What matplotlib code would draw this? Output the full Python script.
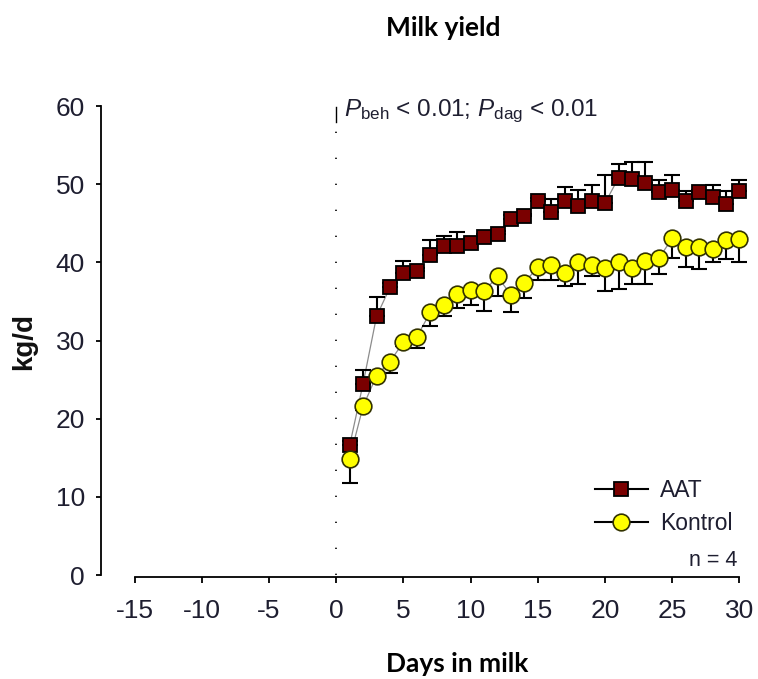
import matplotlib
matplotlib.use('Agg')
import matplotlib.pyplot as plt
from matplotlib.lines import Line2D

# ---- data ----
days = list(range(1, 31))
aat = [16.6, 24.5, 33.1, 36.8, 38.7, 38.9, 41.0, 42.1, 42.1, 42.5,
       43.2, 43.6, 45.5, 45.9, 47.8, 46.5, 47.9, 47.2, 47.9, 47.6,
       50.8, 50.6, 50.2, 49.0, 49.2, 47.8, 49.0, 48.4, 47.4, 49.1]
aat_err = [0.5, 1.7, 2.5, 0.5, 1.5, 0.4, 1.9, 1.3, 1.8, 0.4,
           0.4, 0.4, 0.6, 0.3, 0.4, 1.6, 1.7, 2.1, 2.0, 3.6,
           1.8, 2.3, 2.7, 1.5, 2.0, 1.3, 0.3, 1.5, 1.7, 1.4]
kontrol = [14.9, 21.6, 25.5, 27.3, 29.8, 30.5, 33.6, 34.6, 35.9, 36.5,
           36.3, 38.2, 35.8, 37.4, 39.4, 39.7, 38.7, 40.0, 39.6, 39.3,
           40.0, 39.3, 40.2, 40.5, 43.1, 42.0, 42.0, 41.7, 42.8, 43.0]
kontrol_err = [3.1, 0.5, 0.5, 1.4, 0.5, 1.4, 1.8, 1.5, 1.7, 2.0,
               2.5, 2.5, 2.2, 2.0, 1.7, 1.9, 1.7, 2.8, 1.4, 3.0,
               3.4, 2.1, 3.0, 2.0, 2.6, 2.6, 2.9, 1.7, 2.4, 3.0]
x_ticks = [-15, -10, -5, 0, 5, 10, 15, 20, 25, 30]
y_ticks = [0, 10, 20, 30, 40, 50, 60]

plt.rcParams['font.family'] = ['Liberation Sans', 'DejaVu Sans']
plt.rcParams['axes.unicode_minus'] = False
plt.rcParams['mathtext.fontset'] = 'custom'
plt.rcParams['mathtext.rm'] = 'Liberation Sans'
plt.rcParams['mathtext.it'] = 'Liberation Sans:italic'

txt_col = '#1e1e30'
red = '#7a0000'
yellow = '#ffff00'

fig = plt.figure(figsize=(7.58, 6.79), dpi=100)
ax = fig.add_axes([101 / 758, 102 / 679, (739.5 - 101) / 758, 471 / 679])
ax.set_xlim(-17.5, 30)
ax.set_ylim(-0.25, 60)

# dotted line at calving
ax.plot([0, 0], [0, 57.6], color='black', lw=1.2, linestyle=(0, (0.8, 14.8)))
ax.plot([0, 0], [57.9, 59.9], color='black', lw=1.0)

# connecting lines
ax.plot(days, aat, color='#8c8c8c', lw=0.9, zorder=2)
ax.plot(days, kontrol, color='#8c8c8c', lw=0.9, zorder=2)

# one-sided error bars
zeros = [0] * len(days)
ax.errorbar(days, aat, yerr=[zeros, aat_err], fmt='none', ecolor='black',
            elinewidth=1.5, capsize=5.5, capthick=1.5, zorder=3, clip_on=False)
ax.errorbar(days, kontrol, yerr=[kontrol_err, zeros], fmt='none', ecolor='black',
            elinewidth=1.5, capsize=5.5, capthick=1.5, zorder=3, clip_on=False)

ax.plot(days, aat, linestyle='none', marker='s', markersize=10.5,
        markerfacecolor=red, markeredgecolor='black', markeredgewidth=1.3,
        zorder=4, clip_on=False)
ax.plot(days, kontrol, linestyle='none', marker='o', markersize=12,
        markerfacecolor=yellow, markeredgecolor='#333300', markeredgewidth=1.2,
        zorder=5, clip_on=False)

# axes styling
for s in ['top', 'right']:
    ax.spines[s].set_visible(False)
ax.spines['left'].set_bounds(0, 60)
ax.spines['bottom'].set_bounds(-15, 30)
ax.spines['left'].set_linewidth(1.3)
ax.spines['bottom'].set_linewidth(1.3)
ax.set_xticks(x_ticks)
ax.set_yticks(y_ticks)
ax.tick_params(axis='x', direction='out', length=4.5, width=1.3, pad=11,
               labelsize=19, labelcolor=txt_col)
ax.tick_params(axis='y', direction='out', length=3.5, width=1.3, pad=8,
               labelsize=19, labelcolor=txt_col)

ax.text(0.6, 59.3, r'$P_{\mathrm{beh}}$ < 0.01; $P_{\mathrm{dag}}$ < 0.01',
        fontsize=17.5, color=txt_col, va='center', ha='left')

# legend
handles = [
    Line2D([], [], color='black', lw=1.5, marker='s', markersize=10.5,
           markerfacecolor=red, markeredgecolor='black', markeredgewidth=1.3),
    Line2D([], [], color='black', lw=1.5, marker='o', markersize=12,
           markerfacecolor=yellow, markeredgecolor='#333300', markeredgewidth=1.2),
]
fig.legend(handles, ['AAT', 'Kontrol'], loc='upper left',
           bbox_to_anchor=(595 / 758, 1 - 479 / 679), frameon=False,
           fontsize=16.5, handlelength=2.3, handletextpad=0.55,
           borderpad=0, borderaxespad=0, labelspacing=0.45, labelcolor=txt_col)
fig.text(737 / 758, 1 - 561 / 679, 'n = 4', fontsize=15.5, color=txt_col,
         ha='right', va='center')

fig.text(24 / 758, 1 - 342 / 679, 'kg/d', fontsize=20, fontweight='bold',
         rotation=90, ha='center', va='center', color='#111111')
fig.text(443 / 758, 1 - 28 / 679, 'Milk yield', family='Lato', fontsize=19,
         fontweight='bold', ha='center', va='center', color='black')
fig.text(457 / 758, 1 - 664 / 679, 'Days in milk', family='Lato', fontsize=19,
         fontweight='bold', ha='center', va='center', color='black')

fig.savefig('out.png', dpi=100)
